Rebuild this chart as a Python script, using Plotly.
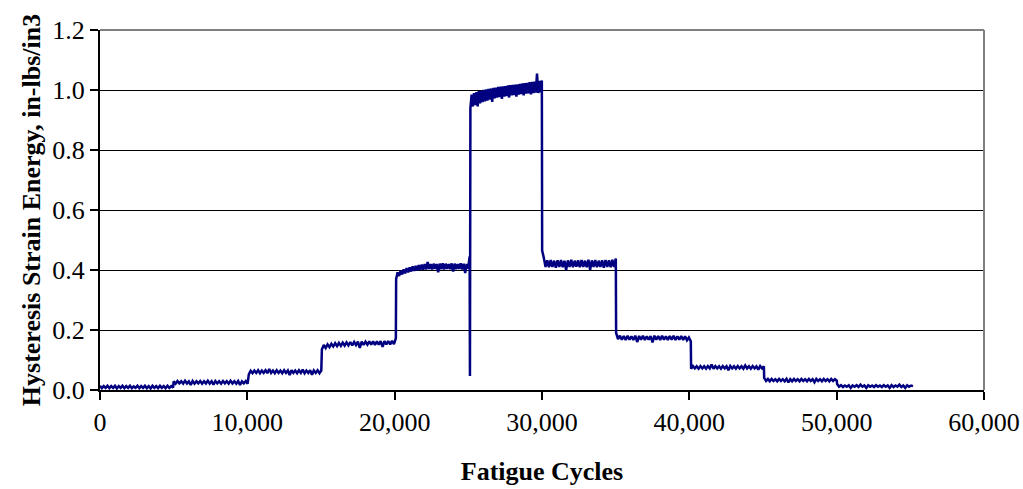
import numpy as np
import plotly.graph_objects as go

# Segment boundaries (fatigue cycles)
seg_start = [0, 5000, 10100, 15060, 20100, 25110, 25140, 30010, 35030, 40120, 45080, 50030]
seg_end   = [4960, 10020, 15020, 20080, 25090, 25110, 29990, 35010, 40100, 45060, 50010, 55180]

# Hysteresis strain energy readings per segment (in-lbs/in3)
seg1 = [0.014, 0.006, 0.013, 0.007, 0.014, 0.006, 0.013, 0.007, 0.014, 0.005,
        0.013, 0.007, 0.014, 0.006, 0.013, 0.007, 0.014, 0.006, 0.012, 0.007,
        0.014, 0.006, 0.013, 0.007, 0.014, 0.006, 0.013, 0.005, 0.014, 0.007,
        0.013, 0.006, 0.014, 0.007, 0.013, 0.006, 0.014, 0.007, 0.013, 0.008]
seg2 = [0.029, 0.021, 0.030, 0.022, 0.029, 0.021, 0.031, 0.022, 0.029, 0.017,
        0.030, 0.021, 0.029, 0.022, 0.030, 0.021, 0.029, 0.022, 0.031, 0.021,
        0.029, 0.018, 0.030, 0.022, 0.029, 0.021, 0.030, 0.022, 0.029, 0.021,
        0.031, 0.022, 0.029, 0.021, 0.030, 0.017, 0.029, 0.022, 0.030, 0.021]
seg3 = [0.052, 0.064, 0.056, 0.065, 0.057, 0.066, 0.056, 0.065, 0.057, 0.066,
        0.056, 0.070, 0.057, 0.065, 0.056, 0.066, 0.057, 0.065, 0.056, 0.066,
        0.057, 0.065, 0.050, 0.066, 0.057, 0.065, 0.056, 0.066, 0.057, 0.068,
        0.056, 0.065, 0.057, 0.066, 0.051, 0.065, 0.057, 0.066, 0.056, 0.065]
seg4 = [0.135, 0.150, 0.140, 0.152, 0.143, 0.154, 0.145, 0.156, 0.146, 0.157,
        0.147, 0.158, 0.148, 0.159, 0.149, 0.160, 0.149, 0.160, 0.150, 0.161,
        0.140, 0.161, 0.150, 0.161, 0.151, 0.162, 0.151, 0.162, 0.150, 0.162,
        0.151, 0.163, 0.144, 0.163, 0.152, 0.163, 0.152, 0.164, 0.153, 0.172]
seg5 = [0.370, 0.392, 0.380, 0.398, 0.385, 0.402, 0.389, 0.406, 0.392, 0.409,
        0.395, 0.412, 0.397, 0.414, 0.399, 0.416, 0.400, 0.418, 0.401, 0.420,
        0.402, 0.427, 0.403, 0.420, 0.402, 0.421, 0.404, 0.420, 0.392, 0.421,
        0.403, 0.422, 0.402, 0.421, 0.404, 0.420, 0.403, 0.422, 0.395, 0.421,
        0.403, 0.420, 0.404, 0.422, 0.402, 0.421, 0.390, 0.420, 0.405, 0.445]
spike = [0.047]
seg6 = [0.940, 0.985, 0.945, 0.990, 0.950, 0.993, 0.945, 0.996, 0.955, 0.998,
        0.960, 1.000, 0.962, 1.002, 0.965, 1.004, 0.968, 1.005, 0.960, 1.007,
        0.972, 1.008, 0.975, 1.010, 0.976, 1.011, 0.970, 1.012, 0.978, 1.013,
        0.980, 1.015, 0.975, 1.016, 0.982, 1.017, 0.983, 1.018, 0.978, 1.019,
        0.985, 1.020, 0.986, 1.022, 0.982, 1.023, 0.988, 1.024, 0.989, 1.026,
        0.985, 1.027, 0.990, 1.028, 0.991, 1.055, 0.990, 1.030, 0.992, 1.032]
seg7 = [0.465, 0.440, 0.410, 0.432, 0.409, 0.433, 0.410, 0.431, 0.408, 0.432,
        0.410, 0.433, 0.409, 0.431, 0.400, 0.432, 0.410, 0.434, 0.409, 0.431,
        0.411, 0.432, 0.409, 0.433, 0.410, 0.431, 0.409, 0.434, 0.401, 0.432,
        0.410, 0.433, 0.409, 0.431, 0.410, 0.432, 0.408, 0.433, 0.410, 0.432,
        0.409, 0.434, 0.410, 0.438]
seg8 = [0.190, 0.170, 0.181, 0.168, 0.180, 0.167, 0.181, 0.168, 0.179, 0.167,
        0.181, 0.160, 0.180, 0.168, 0.181, 0.167, 0.179, 0.168, 0.180, 0.159,
        0.181, 0.168, 0.180, 0.167, 0.181, 0.168, 0.179, 0.167, 0.180, 0.168,
        0.181, 0.167, 0.179, 0.168, 0.180, 0.167, 0.179, 0.166, 0.175, 0.162]
seg9 = [0.071, 0.080, 0.072, 0.079, 0.071, 0.080, 0.072, 0.079, 0.071, 0.080,
        0.072, 0.085, 0.071, 0.080, 0.072, 0.079, 0.071, 0.080, 0.072, 0.079,
        0.066, 0.080, 0.072, 0.079, 0.071, 0.080, 0.072, 0.079, 0.071, 0.082,
        0.072, 0.079, 0.071, 0.080, 0.072, 0.079, 0.068, 0.080, 0.072, 0.079]
seg10 = [0.040, 0.030, 0.037, 0.029, 0.037, 0.030, 0.036, 0.029, 0.037, 0.030,
         0.036, 0.029, 0.037, 0.025, 0.036, 0.029, 0.037, 0.030, 0.036, 0.029,
         0.037, 0.030, 0.036, 0.029, 0.037, 0.030, 0.036, 0.026, 0.037, 0.030,
         0.036, 0.029, 0.037, 0.030, 0.036, 0.029, 0.037, 0.030, 0.036, 0.031]
seg11 = [0.020, 0.011, 0.016, 0.010, 0.015, 0.011, 0.016, 0.007, 0.015, 0.011,
         0.016, 0.010, 0.018, 0.011, 0.015, 0.007, 0.016, 0.011, 0.015, 0.010,
         0.016, 0.011, 0.015, 0.010, 0.016, 0.011, 0.015, 0.007, 0.016, 0.010,
         0.015, 0.011, 0.018, 0.010, 0.015, 0.007, 0.016, 0.011, 0.015, 0.013]

segments = [seg1, seg2, seg3, seg4, seg5, spike, seg6, seg7, seg8, seg9, seg10, seg11]

x_ticks = [0, 10000, 20000, 30000, 40000, 50000, 60000]
y_ticks = [0.0, 0.2, 0.4, 0.6, 0.8, 1.0, 1.2]

xs, ys = [], []
for s, e, vals in zip(seg_start, seg_end, segments):
    xs.extend(np.linspace(s, e, len(vals)).tolist())
    ys.extend(vals)

FONT = "Liberation Serif, Times New Roman, serif"
FS = 26

fig = go.Figure()
fig.add_trace(go.Scatter(x=xs, y=ys, mode="lines",
                         line=dict(color="#000080", width=2.5),
                         showlegend=False, hoverinfo="skip"))

fig.update_layout(
    width=1023, height=489,
    margin=dict(l=100, r=39, t=30, b=99),
    paper_bgcolor="white", plot_bgcolor="white",
    font=dict(family=FONT, size=FS, color="black"),
)
fig.update_xaxes(
    range=[0, 60000], tickvals=x_ticks, tickformat=",d",
    automargin=False,
    showgrid=False, zeroline=False,
    showline=True, linecolor="black", linewidth=2,
    ticks="outside", ticklen=8, tickwidth=2, tickcolor="black",
    tickfont=dict(family=FONT, size=FS),
    title=dict(text="<b>Fatigue Cycles</b>", font=dict(family=FONT, size=FS), standoff=26),
)
fig.update_yaxes(
    range=[0, 1.2], tickvals=y_ticks, tickformat=".1f",
    automargin=False,
    showgrid=True, gridcolor="black", gridwidth=1,
    zeroline=False,
    showline=True, linecolor="black", linewidth=2,
    ticks="outside", ticklen=8, tickwidth=2, tickcolor="black",
    tickfont=dict(family=FONT, size=FS),
    title=dict(text="<b>Hysteresis Strain Energy, in-lbs/in3</b>", font=dict(family=FONT, size=FS), standoff=4),
)
# gray frame on top and right of plot area
fig.add_shape(type="line", xref="x domain", yref="y domain", x0=0, x1=1, y0=1, y1=1,
              line=dict(color="#808080", width=2))
fig.add_shape(type="line", xref="x domain", yref="y domain", x0=1, x1=1, y0=0, y1=1,
              line=dict(color="#808080", width=2))

fig.write_html("out.html")
